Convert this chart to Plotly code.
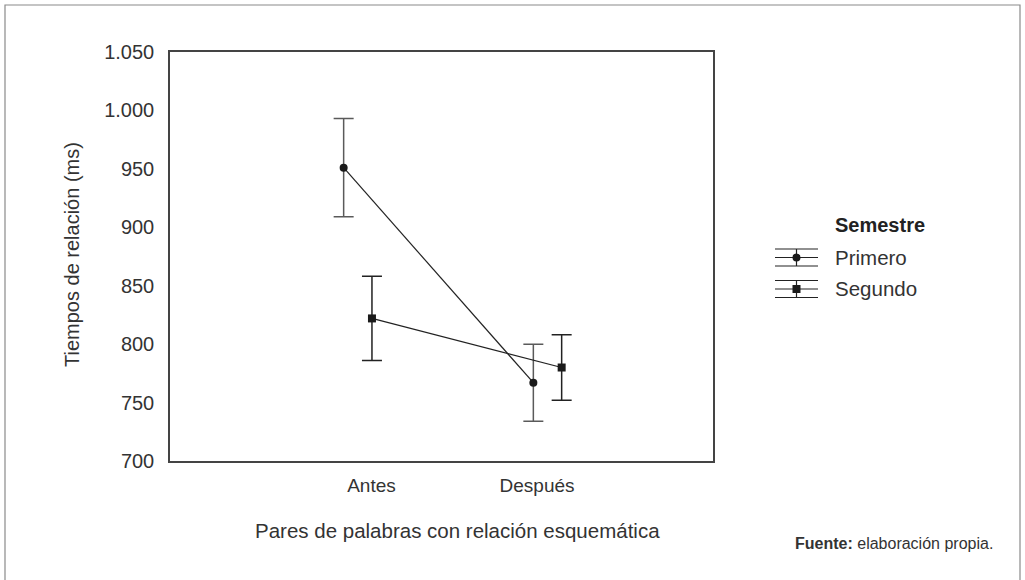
import plotly.graph_objects as go

# ---- data ----
categories = ["Antes", "Después"]
series_names = ["Primero", "Segundo"]
primero_mean = [951, 767]
primero_err = [42, 33]
segundo_mean = [822, 780]
segundo_err = [36, 28]
y_ticks = [700, 750, 800, 850, 900, 950, 1000, 1050]

# ---- layout constants ----
FONT = "Liberation Sans"
TXT = "#333333"
DODGE = 0.0746
cat_pos = list(range(len(categories)))
tick_pos = [0.072, 0.945]

fig = go.Figure()

styles = [
    dict(symbol="circle", err_color="#5a5a5a"),
    dict(symbol="square", err_color="#222222"),
]
means = [primero_mean, segundo_mean]
errs = [primero_err, segundo_err]
offsets = [-DODGE, DODGE]

for name, m, e, off, st in zip(series_names, means, errs, offsets, styles):
    fig.add_trace(go.Scatter(
        x=[c + off for c in cat_pos], y=m, name=name,
        mode="lines+markers",
        line=dict(color="#222222", width=1.2),
        marker=dict(symbol=st["symbol"], size=8, color="#1a1a1a"),
        error_y=dict(type="data", array=e, visible=True, color=st["err_color"],
                     thickness=1.5, width=10),
        showlegend=False, cliponaxis=False,
    ))

# custom legend glyphs on a small helper axis
for i, (name, st) in enumerate(zip(series_names, styles)):
    fig.add_trace(go.Scatter(
        x=[0, 1], y=[i, i], mode="lines", line=dict(color="#222222", width=1.2),
        xaxis="x2", yaxis="y2", showlegend=False, hoverinfo="skip", cliponaxis=False,
    ))
    fig.add_trace(go.Scatter(
        x=[0.5], y=[i], mode="markers",
        marker=dict(symbol=st["symbol"], size=8, color="#1a1a1a"),
        error_y=dict(type="constant", value=0.27, visible=True, color="#222222",
                     thickness=1.2, width=21.5),
        xaxis="x2", yaxis="y2", showlegend=False, hoverinfo="skip", cliponaxis=False,
    ))

W, H = 1025, 580
ML, MR, MT, MB = 5, 5, 5, 0
PW, PH = W - ML - MR, H - MT - MB

def px_x(p):
    return (p - ML) / PW

def px_y(p):
    return (H - MB - p) / PH

fig.update_layout(
    width=W, height=H, autosize=False,
    margin=dict(l=ML, r=MR, t=MT, b=MB),
    paper_bgcolor="white", plot_bgcolor="white",
    separators=",.",
    font=dict(family=FONT, size=20, color=TXT),
    xaxis=dict(
        domain=[px_x(170), px_x(713)], range=[-0.990, 1.8724],
        tickvals=tick_pos, ticktext=categories, tickfont=dict(size=19, color=TXT),
        showgrid=False, zeroline=False, showline=True, mirror=True,
        linecolor="#444444", linewidth=1.5, ticks="", ticklabelstandoff=6,
        fixedrange=True, automargin=False,
    ),
    yaxis=dict(
        domain=[px_y(461), px_y(52)], range=[700, 1050],
        tickvals=y_ticks, tickformat=",", tickfont=dict(size=20, color=TXT),
        showgrid=False, zeroline=False, showline=True, mirror=True,
        linecolor="#444444", linewidth=1.5, ticks="", ticklabelstandoff=10,
        fixedrange=True, automargin=False,
    ),
    xaxis2=dict(
        domain=[px_x(775), px_x(818)], range=[0, 1], anchor="y2",
        visible=False, fixedrange=True,
    ),
    yaxis2=dict(
        domain=[px_y(304.75), px_y(241.75)], range=[1.5, -0.5], anchor="x2",
        visible=False, fixedrange=True,
    ),
    shapes=[
        dict(type="rect", xref="paper", yref="paper", x0=0, x1=1, y0=-0.02, y1=1,
             line=dict(color="#8a8a8a", width=1.2), fillcolor="rgba(0,0,0,0)",
             layer="below"),
    ],
    annotations=[
        dict(text="Tiempos de relación (ms)", textangle=-90, xref="paper", yref="paper",
             x=px_x(72), y=px_y(255), showarrow=False, xanchor="center", yanchor="middle",
             font=dict(size=20, color=TXT)),
        dict(text="Pares de palabras con relación esquemática", xref="paper", yref="paper",
             x=px_x(457), y=px_y(530), showarrow=False, xanchor="center", yanchor="middle",
             font=dict(size=20.5, color=TXT)),
        dict(text="<b>Semestre</b>", xref="paper", yref="paper",
             x=px_x(833), y=px_y(225), showarrow=False, xanchor="left", yanchor="middle",
             font=dict(size=20, color="#222222")),
        dict(text=series_names[0], xref="paper", yref="paper",
             x=px_x(833), y=px_y(257.5), showarrow=False, xanchor="left", yanchor="middle",
             font=dict(size=20.5, color=TXT)),
        dict(text=series_names[1], xref="paper", yref="paper",
             x=px_x(833), y=px_y(289), showarrow=False, xanchor="left", yanchor="middle",
             font=dict(size=20.5, color=TXT)),
        dict(text="<b>Fuente:</b> elaboración propia.", xref="paper", yref="paper",
             x=px_x(793), y=px_y(543), showarrow=False, xanchor="left", yanchor="middle",
             font=dict(size=16, color=TXT)),
    ],
)

fig.write_html(
    "out.html",
    config={"displayModeBar": False},
    post_script="document.body.style.margin='0';document.body.style.overflow='hidden';",
)
